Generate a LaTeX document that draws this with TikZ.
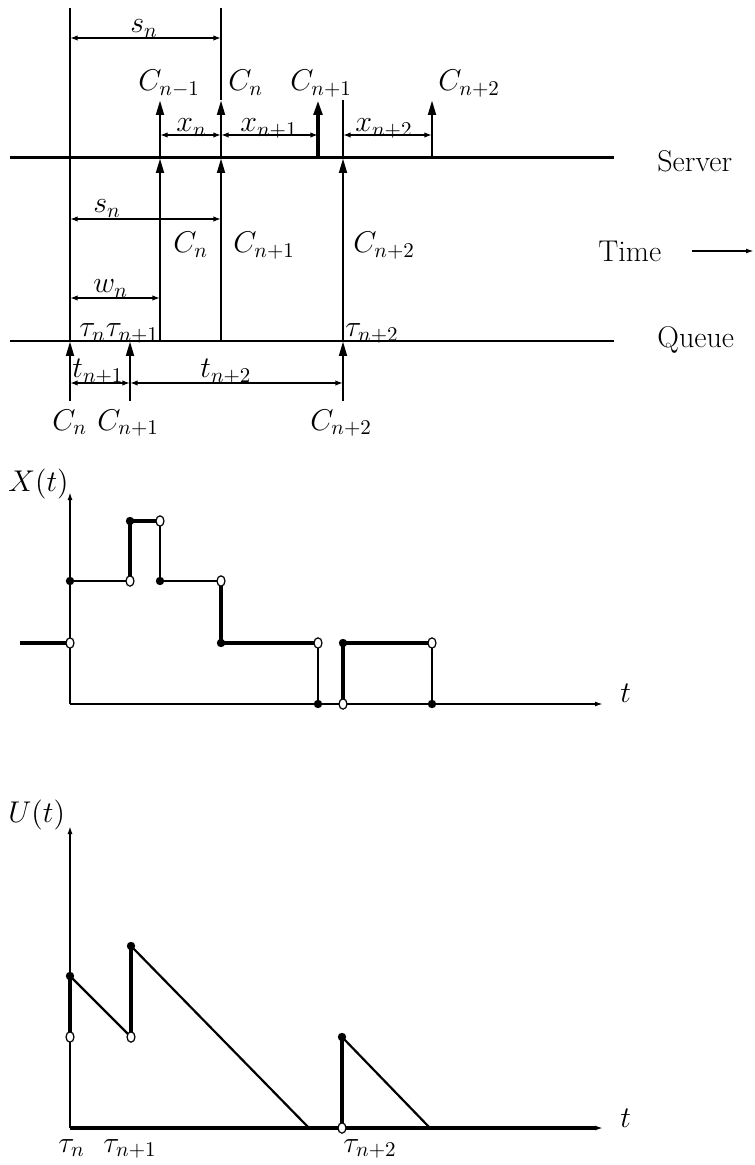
\RequirePackage{fix-cm}
\documentclass[tikz,border=0pt]{standalone}
\usetikzlibrary{arrows.meta}
\begin{document}
\begin{tikzpicture}[x=0.5pt,y=-0.5pt,
  lab/.style={inner sep=0pt, font=\fontsize{15}{18}\selectfont},
  mainline/.style={line width=1.4pt},
  thinline/.style={line width=1pt},
  uparrow/.style={line width=1.4pt,-{Triangle[length=7.5pt,width=3.8pt]}},
  dimarrow/.style={line width=1.1pt,{Latex[length=3.8pt,width=2.7pt]}-{Latex[length=3.8pt,width=2.7pt]}},
  axisarrow/.style={-{Latex[length=4pt,width=2.5pt]}},
  open dot/.style={fill=white,draw=black,line width=0.6pt}
]
\useasboundingbox (0,0) rectangle (754,1165);

% ---------------- top: server / queue timeline ----------------
\coordinate (sL) at (10,158);  \coordinate (sR) at (614,158);
\coordinate (qL) at (10,341);  \coordinate (qR) at (614,341);
\draw[line width=1.5pt] (sL) -- (sR);
\draw[line width=1.15pt] (qL) -- (qR);

% column x=70
\coordinate (a0) at (70,8);  \coordinate (a1) at (70,341); \coordinate (a2) at (70,401);
\draw[thinline] (a0) -- (a1);
\draw[uparrow] (a2) -- (a1);
% column x=130
\coordinate (b1) at (130,341); \coordinate (b2) at (130,401);
\draw[uparrow] (b2) -- (b1);
% column x=160
\coordinate (c0) at (160,100); \coordinate (c1) at (160,158); \coordinate (c2) at (160,341);
\draw[uparrow] (c2) -- (c1);
\draw[uparrow] (c1) -- (c0);
% column x=221
\coordinate (d0) at (221,8); \coordinate (d1) at (221,100); \coordinate (d2) at (221,158); \coordinate (d3) at (221,341);
\draw[mainline] (d0) -- (d1);
\draw[uparrow] (d3) -- (d2);
\draw[uparrow] (d2) -- (d1);
% column x=318
\coordinate (e0) at (318,100); \coordinate (e1) at (318,158);
\draw[line width=2pt,-{Triangle[length=7.5pt,width=4.2pt]}] (e1) -- (e0);
% column x=343
\coordinate (f0) at (343,100); \coordinate (f1) at (343,158); \coordinate (f2) at (343,341); \coordinate (f3) at (343,401);
\draw[mainline] (f0) -- (f1);
\draw[uparrow] (f2) -- (f1);
\draw[uparrow] (f3) -- (f2);
% column x=432
\coordinate (g0) at (432,100); \coordinate (g1) at (432,158);
\draw[uparrow] (g1) -- (g0);

% dimension arrows
\coordinate (sa) at (70,38);  \coordinate (sb) at (221,38);
\draw[dimarrow] (sa) -- (sb);
\coordinate (xa) at (160,135); \coordinate (xb) at (221,135); \coordinate (xc) at (318,135);
\coordinate (xd) at (343,135); \coordinate (xe) at (432,135);
\draw[dimarrow] (xa) -- (xb);
\draw[dimarrow] (xb) -- (xc);
\draw[dimarrow] (xd) -- (xe);
\coordinate (ma) at (70,219); \coordinate (mb) at (221,219);
\draw[dimarrow] (ma) -- (mb);
\coordinate (wa) at (70,298); \coordinate (wb) at (160,298);
\draw[dimarrow] (wa) -- (wb);
\coordinate (ta) at (70,383); \coordinate (tb) at (130,383); \coordinate (tc) at (343,383);
\draw[dimarrow] (ta) -- (tb);
\draw[dimarrow] (tb) -- (tc);

% labels
\node[lab,anchor=base west] (lsn1) at (130,33) {$s_n$};
\node[lab,anchor=base west] (lc1) at (138,91) {$C_{n-1}$};
\node[lab,anchor=base west] (lc2) at (228,91) {$C_n$};
\node[lab,anchor=base west] (lc3) at (290,91) {$C_{n+1}$};
\node[lab,anchor=base west] (lc4) at (438,91) {$C_{n+2}$};
\node[lab,anchor=base west] (lx1) at (176,132) {$x_n$};
\node[lab,anchor=base west] (lx2) at (240,132) {$x_{n+1}$};
\node[lab,anchor=base west] (lx3) at (355,132) {$x_{n+2}$};
\node[lab,anchor=base west] (lsn2) at (93,213) {$s_n$};
\node[lab,anchor=base west] (lm1) at (173,253) {$C_n$};
\node[lab,anchor=base west] (lm2) at (233,253) {$C_{n+1}$};
\node[lab,anchor=base west] (lm3) at (353,253) {$C_{n+2}$};
\node[lab,anchor=base west] (lwn) at (93,293) {$w_n$};
\node[lab,anchor=base west] (ltau1) at (79,337) {$\tau_n\tau_{n+1}$};
\node[lab,anchor=base west] (ltau2) at (345,337) {$\tau_{n+2}$};
\node[lab,anchor=base west] (lt1) at (72,378) {$t_{n+1}$};
\node[lab,anchor=base west] (lt2) at (200,378) {$t_{n+2}$};
\node[lab,anchor=base west] (lb1) at (52,430) {$C_n$};
\node[lab,anchor=base west] (lb2) at (97,430) {$C_{n+1}$};
\node[lab,anchor=base west] (lb3) at (310,430) {$C_{n+2}$};
\node[lab,anchor=base west] (server) at (657,172) {Server};
\node[lab,anchor=base west] (time) at (598,262) {Time};
\node[lab,anchor=base west] (queue) at (657,348) {Queue};
\coordinate (tms) at (692,251); \coordinate (tme) at (754,251);
\draw[line width=1.3pt,axisarrow] (tms) -- (tme);

% ---------------- X(t) ----------------
\coordinate (xo) at (70,704); \coordinate (xtop) at (70,492); \coordinate (xend) at (603,704);
\draw[thinline,axisarrow] (xo) -- (xtop);
\draw[thinline,axisarrow] (xo) -- (xend);
\node[lab,anchor=base west] (lX) at (8,491) {$X(t)$};
\node[lab,anchor=base west] (ltX) at (620,702) {$t$};
\coordinate (p0) at (20,643);
\coordinate (p1) at (70,643); \coordinate (p2) at (70,581);
\coordinate (p3) at (130,581); \coordinate (p4) at (130,521);
\coordinate (p5) at (160,521); \coordinate (p6) at (160,581);
\coordinate (p7) at (221,581); \coordinate (p8) at (221,643);
\coordinate (p9) at (318,643); \coordinate (p10) at (318,704);
\coordinate (p11) at (343,704); \coordinate (p12) at (343,643);
\coordinate (p13) at (432,643); \coordinate (p14) at (432,704);
\draw[line width=1.6pt] (p0) -- (p1);
\draw[thinline] (p2) -- (p3);
\draw[line width=1.6pt] (p3) -- (p4) -- (p5);
\draw[thinline] (p5) -- (p6) -- (p7);
\draw[line width=1.6pt] (p7) -- (p8) -- (p9);
\draw[thinline] (p9) -- (p10);
\draw[line width=1.6pt] (p11) -- (p12) -- (p13);
\draw[thinline] (p13) -- (p14);
\foreach \p in {p2,p4,p6,p8,p10,p12,p14} \fill (\p) circle (4.2);
\foreach \p in {p1,p3,p5,p7,p9,p11,p13} \draw[open dot] (\p) ellipse (4 and 5.2);

% ---------------- U(t) ----------------
\coordinate (uo) at (70,1128); \coordinate (utop) at (70,826); \coordinate (uend) at (603,1128);
\draw[line width=1.1pt,axisarrow] (uo) -- (utop);
\draw[line width=1.6pt,axisarrow] (uo) -- (uend);
\node[lab,anchor=base west] (lU) at (8,822) {$U(t)$};
\node[lab,anchor=base west] (ltU) at (620,1127) {$t$};
\coordinate (u1) at (70,1037); \coordinate (u2) at (70,976);
\coordinate (u3) at (131,1037); \coordinate (u4) at (131,946);
\coordinate (u5) at (309,1128);
\coordinate (u6) at (342,1128); \coordinate (u7) at (342,1037);
\coordinate (u8) at (430,1128);
\draw[line width=1.6pt] (u1) -- (u2);
\draw[line width=1.1pt] (u2) -- (u3);
\draw[line width=1.6pt] (u3) -- (u4);
\draw[line width=1.1pt] (u4) -- (u5);
\draw[line width=1.6pt] (u6) -- (u7);
\draw[line width=1.1pt] (u7) -- (u8);
\foreach \p in {u2,u4,u7} \fill (\p) circle (4.2);
\foreach \p in {u1,u3,u6} \draw[open dot] (\p) ellipse (4 and 5.2);
\node[lab,anchor=base west] (lta) at (58,1152) {$\tau_n$};
\node[lab,anchor=base west] (ltb) at (103,1152) {$\tau_{n+1}$};
\node[lab,anchor=base west] (ltc) at (343,1152) {$\tau_{n+2}$};
\end{tikzpicture}
\end{document}
